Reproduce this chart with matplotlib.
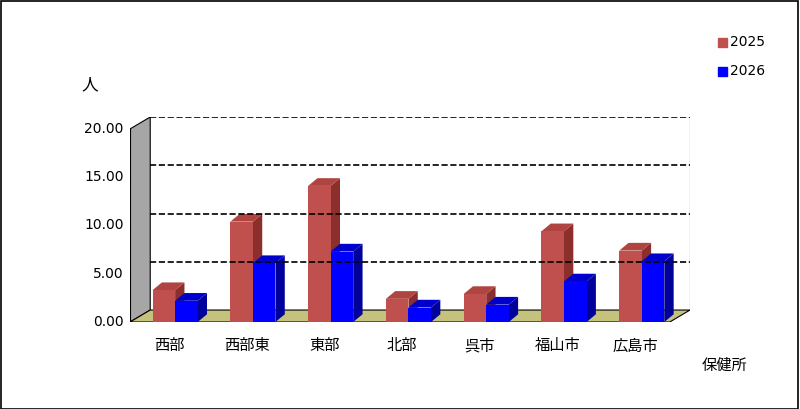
import matplotlib.pyplot as plt
from matplotlib.patches import Polygon, Rectangle

plt.rcParams['font.family'] = ['Noto Sans CJK JP', 'DejaVu Sans']

cats = ['西部', '西部東', '東部', '北部', '呉市', '福山市', '広島市']
v2025 = [3.3, 10.4, 14.1, 2.4, 2.9, 9.4, 7.4]
v2026 = [2.2, 6.1, 7.3, 1.5, 1.8, 4.2, 6.3]
yticks = [0, 5, 10, 15, 20]

red, red_top, red_side = '#C0504D', '#B04440', '#8C2E2B'
blue, blue_top, blue_side = '#0000FF', '#0000CC', '#00009A'

fig = plt.figure(figsize=(8, 4.09), dpi=100)
fig.add_artist(Rectangle((0.001, 0.001), 0.997, 0.997, transform=fig.transFigure,
                         fill=False, edgecolor='black', lw=1.2))
ax = fig.add_axes([130/800, 87/409, 560/800, 205/409])
x0, x1 = -0.58, 6.36
ddx, ddy = 0.26, 1.24   # wall depth
ymax = 20
ax.set_xlim(x0, x1 + ddx)
ax.set_ylim(0, 21.24)
ax.axis('off')

# left wall and floor
ax.add_patch(Polygon([(x0, 0), (x0 + ddx, ddy), (x0 + ddx, ymax + ddy), (x0, ymax)],
                     facecolor='#A6A6A6', edgecolor='black', lw=0.8))
ax.add_patch(Polygon([(x0, 0), (x1, 0), (x1 + ddx, ddy), (x0 + ddx, ddy)],
                     facecolor='#C4C27C', edgecolor='black', lw=0.8))
# back grid
for t in yticks[1:]:
    ax.plot([x0 + ddx, x1 + ddx], [t + ddy, t + ddy], color='black', ls='--', lw=1.2)
ax.plot([x1 + ddx, x1 + ddx], [ddy, ymax + ddy], color='black', lw=0.8)
ax.plot([x0, x0], [0, ymax], color='black', lw=0.8)

for t in yticks:
    ax.plot([x0 - 0.05, x0], [t, t], color='black', lw=0.8)
    ax.text(x0 - 0.08, t, f'{t:.2f}', ha='right', va='center', fontsize=10, family='DejaVu Sans')

w, bdx, bdy = 0.29, 0.12, 0.8

def bar3d(xl, h, c, ct, cs):
    ax.add_patch(Polygon([(xl + w, 0), (xl + w + bdx, bdy), (xl + w + bdx, h + bdy), (xl + w, h)],
                         facecolor=cs, edgecolor='none'))
    ax.add_patch(Polygon([(xl, h), (xl + w, h), (xl + w + bdx, h + bdy), (xl + bdx, h + bdy)],
                         facecolor=ct, edgecolor='none'))
    ax.add_patch(Rectangle((xl, 0), w, h, facecolor=c, edgecolor='none'))

for i, c in enumerate(cats):
    bar3d(i - w, v2025[i], red, red_top, red_side)
    bar3d(i, v2026[i], blue, blue_top, blue_side)
    ax.text(i - 0.08, -1.6, c, ha='center', va='top', fontsize=11)

fig.text(90/800, 1 - 85/409, '人', ha='center', va='center', fontsize=12)
fig.text(725/800, 1 - 365/409, '保健所', ha='center', va='center', fontsize=11)
fig.add_artist(Rectangle((718/800, 1 - 47/409), 9/800, 9/409, transform=fig.transFigure, color=red))
fig.add_artist(Rectangle((718/800, 1 - 76/409), 9/800, 9/409, transform=fig.transFigure, color=blue))
fig.text(730/800, 1 - 42/409, '2025', va='center', fontsize=10, family='DejaVu Sans')
fig.text(730/800, 1 - 71/409, '2026', va='center', fontsize=10, family='DejaVu Sans')

fig.savefig('out.png', dpi=100)
